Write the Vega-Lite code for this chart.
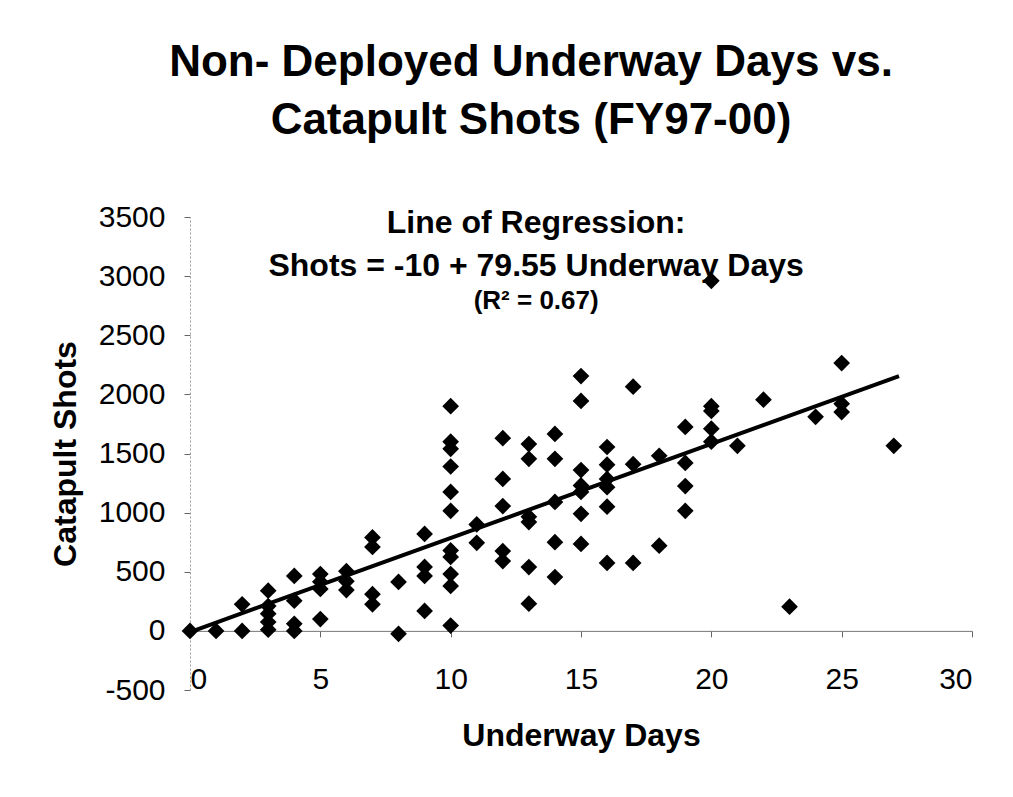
{
  "$schema": "https://vega.github.io/schema/vega-lite/v6.json",
  "width": 782,
  "height": 473,
  "autosize": {"type": "none"},
  "padding": {"left": 190, "top": 217, "right": 41, "bottom": 107},
  "background": "white",
  "title": {
    "text": ["Non- Deployed Underway Days vs.", "Catapult Shots (FY97-00)"],
    "font": "Liberation Sans",
    "fontSize": 44,
    "fontWeight": "bold",
    "color": "black",
    "lineHeight": 58,
    "anchor": "middle",
    "dx": -50,
    "offset": 59
  },
  "config": {
    "view": {"stroke": null},
    "font": "Liberation Sans"
  },
  "datasets": {
    "pts": [
      {"days": 0, "shots": 0},
      {"days": 1, "shots": 0},
      {"days": 2, "shots": 0}, {"days": 2, "shots": 225},
      {"days": 3, "shots": 10}, {"days": 3, "shots": 75}, {"days": 3, "shots": 145}, {"days": 3, "shots": 210}, {"days": 3, "shots": 340},
      {"days": 4, "shots": 0}, {"days": 4, "shots": 60}, {"days": 4, "shots": 255}, {"days": 4, "shots": 465},
      {"days": 5, "shots": 100}, {"days": 5, "shots": 355}, {"days": 5, "shots": 415}, {"days": 5, "shots": 480},
      {"days": 6, "shots": 345}, {"days": 6, "shots": 420}, {"days": 6, "shots": 505},
      {"days": 7, "shots": 225}, {"days": 7, "shots": 310}, {"days": 7, "shots": 710}, {"days": 7, "shots": 790},
      {"days": 8, "shots": -25}, {"days": 8, "shots": 414},
      {"days": 9, "shots": 169}, {"days": 9, "shots": 465}, {"days": 9, "shots": 541}, {"days": 9, "shots": 820},
      {"days": 10, "shots": 45}, {"days": 10, "shots": 380}, {"days": 10, "shots": 480}, {"days": 10, "shots": 625}, {"days": 10, "shots": 680}, {"days": 10, "shots": 1015}, {"days": 10, "shots": 1175}, {"days": 10, "shots": 1390}, {"days": 10, "shots": 1540}, {"days": 10, "shots": 1600}, {"days": 10, "shots": 1900},
      {"days": 11, "shots": 745}, {"days": 11, "shots": 900},
      {"days": 12, "shots": 590}, {"days": 12, "shots": 675}, {"days": 12, "shots": 1055}, {"days": 12, "shots": 1285}, {"days": 12, "shots": 1630},
      {"days": 13, "shots": 230}, {"days": 13, "shots": 540}, {"days": 13, "shots": 920}, {"days": 13, "shots": 965}, {"days": 13, "shots": 1455}, {"days": 13, "shots": 1580},
      {"days": 14, "shots": 455}, {"days": 14, "shots": 750}, {"days": 14, "shots": 1090}, {"days": 14, "shots": 1455}, {"days": 14, "shots": 1665},
      {"days": 15, "shots": 735}, {"days": 15, "shots": 990}, {"days": 15, "shots": 1175}, {"days": 15, "shots": 1230}, {"days": 15, "shots": 1360}, {"days": 15, "shots": 1945}, {"days": 15, "shots": 2155},
      {"days": 16, "shots": 575}, {"days": 16, "shots": 1050}, {"days": 16, "shots": 1215}, {"days": 16, "shots": 1285}, {"days": 16, "shots": 1405}, {"days": 16, "shots": 1555},
      {"days": 17, "shots": 575}, {"days": 17, "shots": 1410}, {"days": 17, "shots": 2065},
      {"days": 18, "shots": 720}, {"days": 18, "shots": 1480},
      {"days": 19, "shots": 1015}, {"days": 19, "shots": 1225}, {"days": 19, "shots": 1420}, {"days": 19, "shots": 1725},
      {"days": 20, "shots": 1600}, {"days": 20, "shots": 1710}, {"days": 20, "shots": 1860}, {"days": 20, "shots": 1900}, {"days": 20, "shots": 2960},
      {"days": 21, "shots": 1565},
      {"days": 22, "shots": 1955},
      {"days": 23, "shots": 205},
      {"days": 24, "shots": 1810},
      {"days": 25, "shots": 1850}, {"days": 25, "shots": 1920}, {"days": 25, "shots": 2265},
      {"days": 27, "shots": 1565}
    ],
    "reg": [
      {"days": 0, "shots": -10},
      {"days": 27.2, "shots": 2154}
    ],
    "notesBig": [
      {"days": 13.28, "shots": 3364, "label": "Line of Regression:"},
      {"days": 13.28, "shots": 3001, "label": "Shots = -10 + 79.55 Underway Days"}
    ],
    "notesSmall": [
      {"days": 13.28, "shots": 2725, "label": "(R² = 0.67)"}
    ]
  },
  "encoding": {
    "x": {
      "field": "days",
      "type": "quantitative",
      "scale": {"domain": [0, 30], "nice": false, "zero": false},
      "axis": {
        "title": "Underway Days",
        "values": [0, 5, 10, 15, 20, 25, 30],
        "labelExpr": "'' + datum.value",
        "offset": -59.125,
        "grid": false,
        "tickSize": 6,
        "tickColor": "#666",
        "domainColor": "#777",
        "labelFont": "Liberation Sans",
        "labelFontSize": 30,
        "labelColor": "black",
        "labelPadding": 28,
        "titleFont": "Liberation Sans",
        "titleFontSize": 32,
        "titleFontWeight": "bold",
        "titleColor": "black",
        "titlePadding": 26
      }
    },
    "y": {
      "field": "shots",
      "type": "quantitative",
      "scale": {"domain": [-500, 3500], "nice": false, "zero": false},
      "axis": {
        "title": "Catapult Shots",
        "values": [-500, 0, 500, 1000, 1500, 2000, 2500, 3000, 3500],
        "labelExpr": "'' + datum.value",
        "grid": false,
        "tickSize": 6,
        "tickColor": "#666",
        "domainColor": "#999",
        "domainDash": [2, 2],
        "labelFont": "Liberation Sans",
        "labelFontSize": 30,
        "labelColor": "black",
        "labelPadding": 19,
        "titleFont": "Liberation Sans",
        "titleFontSize": 32,
        "titleFontWeight": "bold",
        "titleColor": "black",
        "titlePadding": 16
      }
    }
  },
  "layer": [
    {
      "data": {"name": "pts"},
      "mark": {"type": "point", "shape": "diamond", "filled": true, "color": "black", "size": 280, "opacity": 1}
    },
    {
      "data": {"name": "reg"},
      "mark": {"type": "line", "color": "black", "strokeWidth": 4}
    },
    {
      "data": {"name": "notesBig"},
      "mark": {"type": "text", "font": "Liberation Sans", "fontSize": 32, "fontWeight": "bold", "color": "black", "align": "center", "baseline": "alphabetic"},
      "encoding": {"text": {"field": "label"}}
    },
    {
      "data": {"name": "notesSmall"},
      "mark": {"type": "text", "font": "Liberation Sans", "fontSize": 26, "fontWeight": "bold", "color": "black", "align": "center", "baseline": "alphabetic"},
      "encoding": {"text": {"field": "label"}}
    }
  ]
}
